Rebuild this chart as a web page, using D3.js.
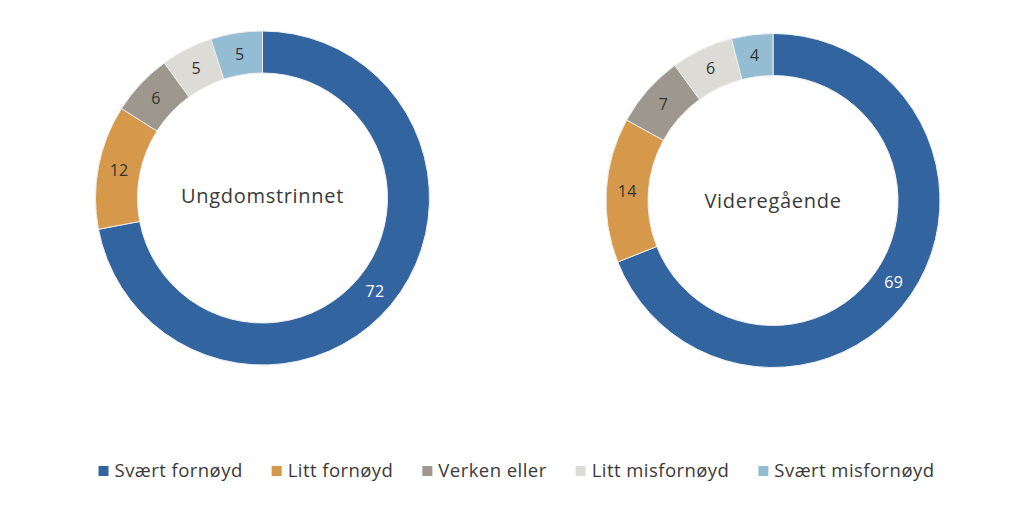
<!DOCTYPE html>
<html>
<head>
<meta charset="utf-8">
<script src="https://cdn.jsdelivr.net/npm/d3@7"></script>
<style>
  html, body { margin: 0; padding: 0; background: #ffffff; }
  svg { display: block; font-family: "Open Sans", "Noto Sans", sans-serif; }
</style>
</head>
<body>
<svg id="chart" width="1024" height="507"></svg>
<script>
// ---- data ----
const categories = ["Svært fornøyd", "Litt fornøyd", "Verken eller", "Litt misfornøyd", "Svært misfornøyd"];
const chartTitles = ["Ungdomstrinnet", "Videregående"];
const ungdomstrinnet = [72, 12, 6, 5, 5];
const videregaende = [69, 14, 7, 6, 4];
const colors = ["#32659f", "#d6984b", "#9d978d", "#dcdbd6", "#94bcd3"];
const labelColors = ["#ffffff", "#333333", "#333333", "#333333", "#333333"];

// ---- layout ----
const W = 1024, H = 507;
const svg = d3.select("#chart");
const outerR = 167, innerR = 125;
const donuts = [
  { title: chartTitles[0], values: ungdomstrinnet, cx: 262.5, cy: 198, titleDy: 5 },
  { title: chartTitles[1], values: videregaende, cx: 773, cy: 200.5, titleDy: 7.5 }
];

const color = d3.scaleOrdinal().domain(categories).range(colors);
const pie = d3.pie().sort(null).value(d => d.value);
const arc = d3.arc().innerRadius(innerR).outerRadius(outerR);

donuts.forEach(dn => {
  const data = categories.map((c, i) => ({ cat: c, value: dn.values[i], idx: i }));
  const g = svg.append("g").attr("transform", `translate(${dn.cx},${dn.cy})`);
  const arcs = pie(data);
  g.selectAll("path.slice")
    .data(arcs)
    .join("path")
    .attr("class", "slice")
    .attr("d", arc)
    .attr("fill", d => color(d.data.cat))
    .attr("stroke", "#eeeeee")
    .attr("stroke-width", 1);
  g.selectAll("text.val")
    .data(arcs)
    .join("text")
    .attr("class", "val")
    .attr("transform", d => `translate(${arc.centroid(d)})`)
    .attr("text-anchor", "middle")
    .attr("dy", "0.36em")
    .attr("font-size", 16)
    .attr("letter-spacing", 0.3)
    .attr("fill", d => labelColors[d.data.idx])
    .text(d => d.data.value);
  g.append("text")
    .attr("text-anchor", "middle")
    .attr("y", dn.titleDy)
    .attr("font-size", 20)
    .attr("letter-spacing", 0.7)
    .attr("fill", "#3a3a3a")
    .text(dn.title);
});

// ---- legend ----
const legend = svg.append("g").attr("class", "legend");
const legendY = 471;
const sq = 10, sqGap = 6, itemGap = 29;
const items = legend.selectAll("g.item")
  .data(categories)
  .join("g")
  .attr("class", "item");
items.append("rect")
  .attr("width", sq).attr("height", sq)
  .attr("y", -sq / 2)
  .attr("fill", d => color(d));
items.append("text")
  .attr("x", sq + sqGap)
  .attr("dy", "0.35em")
  .attr("font-size", 18.5)
  .attr("letter-spacing", 0.45)
  .attr("fill", "#3a3a3a")
  .text(d => d);
const widths = [];
items.each(function () { widths.push(this.getBBox().width); });
const total = d3.sum(widths) + itemGap * (widths.length - 1);
let x = 516.5 - total / 2;
items.attr("transform", (d, i) => {
  const t = `translate(${x},${legendY})`;
  x += widths[i] + itemGap;
  return t;
});
</script>
</body>
</html>
